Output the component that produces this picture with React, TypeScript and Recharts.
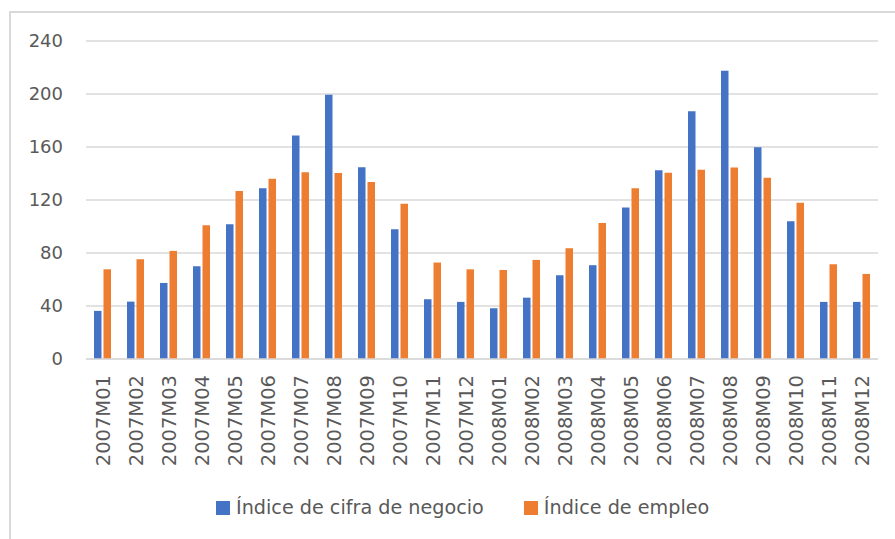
import { BarChart, Bar, XAxis, YAxis, CartesianGrid } from 'recharts';

const months = [
    '2007M01', '2007M02', '2007M03', '2007M04', '2007M05', '2007M06',
    '2007M07', '2007M08', '2007M09', '2007M10', '2007M11', '2007M12',
    '2008M01', '2008M02', '2008M03', '2008M04', '2008M05', '2008M06',
    '2008M07', '2008M08', '2008M09', '2008M10', '2008M11', '2008M12',
];

const cifraNegocio = [
    36.3, 43.3, 57.4, 70.0, 101.7, 128.9, 168.7, 199.4, 144.8, 98.0, 45.1, 43.1,
    38.3, 46.3, 63.2, 70.8, 114.3, 142.5, 186.9, 217.6, 159.9, 104.0, 43.1, 43.1,
];

const empleo = [
    67.7, 75.3, 81.6, 101.0, 126.7, 136.0, 141.0, 140.3, 133.5, 117.1, 72.8, 67.7,
    67.2, 74.8, 83.6, 102.7, 128.9, 140.5, 142.8, 144.5, 136.7, 117.9, 71.5, 64.2,
];

const yTicks = [0, 40, 80, 120, 160, 200, 240];

const seriesNames = ['Índice de cifra de negocio', 'Índice de empleo'];
const seriesColors = ['#4472C4', '#ED7D31'];

const chartData = months.map((month, i) => ({
    month,
    cifra: cifraNegocio[i],
    empleo: empleo[i],
}));

const textColor = '#595959';
const gridColor = '#D9D9D9';

function MonthTick({ x, y, payload }: any) {
    return (
        <text
            x={x}
            y={y}
            transform={`rotate(-90, ${x}, ${y})`}
            textAnchor="end"
            dy="0.36em"
            fill={textColor}
            fontSize={19.5}
            fontFamily="DejaVu Sans"
        >
            {payload.value}
        </text>
    );
}

export default function App() {
    return (
        <div
            style={{
                position: 'fixed',
                left: 0,
                top: 0,
                width: 895,
                height: 539,
                overflow: 'hidden',
                background: '#fff',
            }}
        >
            <div
                style={{
                    position: 'absolute',
                    left: 9,
                    top: 11,
                    width: 900,
                    height: 540,
                    borderLeft: `2px solid ${gridColor}`,
                    borderTop: `2px solid ${gridColor}`,
                }}
            />
            <div style={{ position: 'absolute', left: 0, top: 0 }}>
                <BarChart
                    width={895}
                    height={539}
                    data={chartData}
                    margin={{ top: 41, right: 17, bottom: 70, left: 0 }}
                    barSize={7.5}
                    barGap={2}
                >
                    <CartesianGrid
                        vertical={false}
                        stroke={gridColor}
                        strokeWidth={1.5}
                    />
                    <XAxis
                        dataKey="month"
                        height={110}
                        interval={0}
                        tickLine={false}
                        tickSize={0}
                        tickMargin={16}
                        axisLine={{ stroke: gridColor, strokeWidth: 1.5 }}
                        tick={<MonthTick />}
                    />
                    <YAxis
                        width={86}
                        domain={[0, 240]}
                        ticks={yTicks}
                        axisLine={false}
                        tickLine={false}
                        tickSize={0}
                        tickMargin={23}
                        tick={{
                            fill: textColor,
                            fontSize: 18,
                            fontFamily: 'DejaVu Sans',
                        }}
                    />
                    <Bar
                        dataKey="cifra"
                        name={seriesNames[0]}
                        fill={seriesColors[0]}
                        isAnimationActive={false}
                    />
                    <Bar
                        dataKey="empleo"
                        name={seriesNames[1]}
                        fill={seriesColors[1]}
                        isAnimationActive={false}
                    />
                </BarChart>
            </div>
            <div
                style={{
                    position: 'absolute',
                    left: 216,
                    top: 496,
                    display: 'flex',
                    alignItems: 'center',
                    fontFamily: 'DejaVu Sans',
                    fontSize: 19.2,
                    color: textColor,
                    whiteSpace: 'nowrap',
                }}
            >
                {seriesNames.map((name, i) => (
                    <div
                        key={name}
                        style={{
                            display: 'flex',
                            alignItems: 'center',
                            marginRight: i === 0 ? 40 : 0,
                        }}
                    >
                        <span
                            style={{
                                display: 'inline-block',
                                width: 14,
                                height: 14,
                                background: seriesColors[i],
                                marginRight: 6,
                            }}
                        />
                        <span>{name}</span>
                    </div>
                ))}
            </div>
        </div>
    );
}
